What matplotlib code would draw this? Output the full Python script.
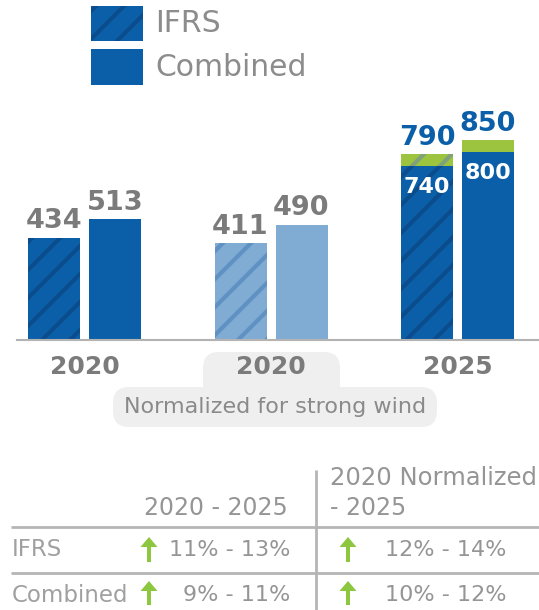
import numpy as np
import matplotlib.pyplot as plt
from matplotlib.patches import Rectangle, FancyBboxPatch
from matplotlib.collections import LineCollection

groups = ['2020', '2020', '2025']
ifrs = [434, 411, 740]
combined = [513, 490, 800]
ifrs_upside = [0, 0, 50]
combined_upside = [0, 0, 50]

row_names = ['IFRS', 'Combined']
growth_2020 = ['11% - 13%', '9% - 11%']
growth_norm = ['12% - 14%', '10% - 12%']

BLUE = '#0b5fa8'
LIGHT = '#80acd3'
GREEN = '#9cc43e'
GREY = '#7b7b7b'
face = [BLUE, LIGHT, BLUE]
stripe_col = {BLUE: '#0a4c8c', LIGHT: '#5f91c2', GREEN: '#7fa27a'}

W, H = 539, 610
fig = plt.figure(figsize=(W / 100, H / 100), dpi=100)

# pixel-space layer for legend, backdrop and table
ov = fig.add_axes([0, 0, 1, 1], zorder=0)
ov.set_xlim(0, W)
ov.set_ylim(H, 0)
ov.axis('off')

base_px = 340
scale = 0.235
unit = 186.5
ax = fig.add_axes([0, (H - base_px) / H, 1, base_px / H], zorder=1)
ax.patch.set_visible(False)


def stripes(patch, color, host):
    c = np.arange(-10, W + H, 28)
    segs = [[(0, ci), (W, ci - W)] for ci in c]
    lc = LineCollection(segs, colors=color, linewidths=3, transform=ov.transData)
    host.add_collection(lc, autolim=False)
    lc.set_clip_path(patch)


x = np.arange(len(groups))
bw = 52 / unit
off = 30.5 / unit
ifrs_bars = ax.bar(x - off, ifrs, bw, color=face)
comb_bars = ax.bar(x + off, combined, bw, color=face)
ifrs_top = ax.bar(x - off, ifrs_upside, bw, bottom=ifrs, color=GREEN)
comb_top = ax.bar(x + off, combined_upside, bw, bottom=combined, color=GREEN)

for b, fc in zip(ifrs_bars, face):
    stripes(b, stripe_col[fc], ax)
for b, up in zip(ifrs_top, ifrs_upside):
    if up:
        stripes(b, stripe_col[GREEN], ax)

for i in range(len(groups)):
    for xi, v, up in [(x[i] - off, ifrs[i], ifrs_upside[i]),
                      (x[i] + off, combined[i], combined_upside[i])]:
        if up == 0:
            ax.annotate(str(v), (xi, v), xytext=(0, 7), textcoords='offset points',
                        ha='center', va='baseline', fontsize=19.5, fontweight='bold', color=GREY)
        else:
            ax.annotate(str(v + up), (xi, v + up), xytext=(0, 7), textcoords='offset points',
                        ha='center', va='baseline', fontsize=19.5, fontweight='bold', color=BLUE)
            ax.annotate(str(v), (xi, v), xytext=(0, -8), textcoords='offset points',
                        ha='center', va='top', fontsize=16, fontweight='bold', color='white')

ax.set_ylim(0, base_px / scale)
ax.set_xlim(-84.5 / unit, (W - 84.5) / unit)
ax.set_xticks(x, groups, fontsize=18, fontweight='bold', color=GREY)
ax.tick_params(length=0, pad=11, left=False, labelleft=False)
for s in ax.spines.values():
    s.set_visible(False)
ax.axhline(0, xmin=17 / W, xmax=1, color='#b3b3b3', lw=1.5, clip_on=False)

# backdrop behind the normalized year
ov.add_patch(FancyBboxPatch((203, 352), 137, 50, boxstyle='round,pad=0,rounding_size=16',
                            fc='#efefef', ec='none'))
ov.add_patch(FancyBboxPatch((113, 387), 324, 40, boxstyle='round,pad=0,rounding_size=16',
                            fc='#efefef', ec='none'))
ov.text(275, 407, 'Normalized for strong wind', ha='center', va='center',
        fontsize=16, color='#8a8a8a')

# legend
sq1 = Rectangle((91, 6), 52, 35, fc=BLUE, ec='none')
sq2 = Rectangle((91, 49), 52, 36, fc=BLUE, ec='none')
ov.add_patch(sq1)
ov.add_patch(sq2)
stripes(sq1, stripe_col[BLUE], ov)
ov.text(155, 24, 'IFRS', va='center', fontsize=21.5, color='#8c8c8c')
ov.text(155, 67, 'Combined', va='center', fontsize=21.5, color='#8c8c8c')

# growth table
tc = '#959595'
ov.text(288, 508, '2020 - 2025', ha='right', va='center', fontsize=17, color=tc)
ov.text(330, 478, '2020 Normalized', ha='left', va='center', fontsize=17.5, color=tc)
ov.text(330, 508, '- 2025', ha='left', va='center', fontsize=17, color=tc)
for yy in [527, 573]:
    ov.plot([11, W], [yy, yy], color='#b5b5b5', lw=2, solid_capstyle='butt')
ov.plot([316, 316], [470, H], color='#b5b5b5', lw=2, solid_capstyle='butt')

row_y = [550, 595]
arrow_y = [(562, 537), (605, 581)]
for name, a, b, yy, (y0, y1) in zip(row_names, growth_2020, growth_norm, row_y, arrow_y):
    ov.text(12, yy, name, ha='left', va='center', fontsize=16.5, color='#a0a0a0')
    ov.text(290, yy, a, ha='right', va='center', fontsize=16, color=tc)
    ov.text(385, yy, b, ha='left', va='center', fontsize=16, color=tc)
    for ax_x in [149, 348]:
        ov.arrow(ax_x, y0, 0, y1 - y0, width=4, head_width=17, head_length=10,
                 length_includes_head=True, color='#8dc63f', lw=0)

fig.savefig('out.png', dpi=100)
